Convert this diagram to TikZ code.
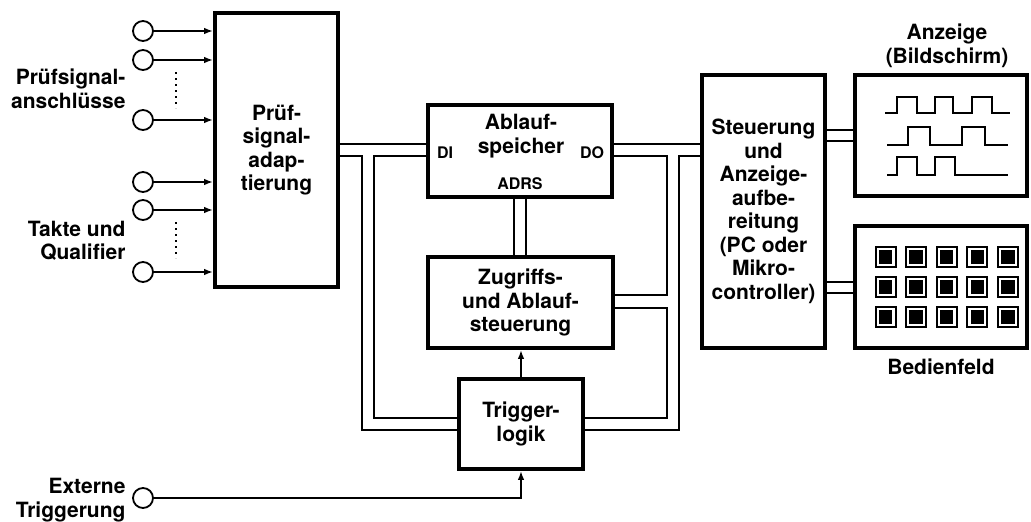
\documentclass[tikz,border=0pt]{standalone}
\usepackage{fontspec}
\setmainfont{TeX Gyre Heros}
\usetikzlibrary{arrows.meta,positioning}

\begin{document}
\begin{tikzpicture}[x=1pt,y=-1pt,>={Latex[length=9pt,width=6.5pt]},
 font=\bfseries\fontsize{21}{23.5}\selectfont,
 blk/.style={draw,line width=3.6pt,inner sep=0pt,align=center},
 bus/.style={line width=2.8pt},
 sig/.style={line width=1.8pt},
 port/.style={draw,circle,line width=1.8pt,minimum size=20pt,inner sep=0pt},
 pin/.style={font=\bfseries\fontsize{16}{18}\selectfont},
 wave/.style={line width=2.6pt}]
\useasboundingbox (0,0) rectangle (1031,522);
% blocks
\node[blk,minimum width=123pt,minimum height=274pt] (pa) at (276.5,150) {Prüf-\\signal-\\adap-\\tierung};
\node[blk,minimum width=184pt,minimum height=92pt] (as) at (520,151) {};
\node[align=center] (astxt) at (521,136) {Ablauf-\\speicher};
\node[pin] (di) at (445,153) {DI};
\node[pin] (do) at (592,153) {DO};
\node[pin] (adrs) at (520,184) {ADRS};
\node[blk,minimum width=185pt,minimum height=91pt] (zs) at (520.5,302.5) {Zugriffs-\\und Ablauf-\\steuerung};
\node[blk,minimum width=124pt,minimum height=90pt] (tl) at (521,424) {Trigger-\\logik};
\node[blk,minimum width=123pt,minimum height=273pt] (st) at (763.5,211.5) {Steuerung\\und\\Anzeige-\\aufbe-\\reitung\\(PC oder\\Mikro-\\controller)};
\node[blk,minimum width=172pt,minimum height=121pt] (an) at (941,135.5) {};
\node[blk,minimum width=172pt,minimum height=122pt] (bf) at (941,287) {};
% inputs
\foreach \y [count=\i] in {31,60,120,182,210,272}{
 \node[port] (in\i) at (143,\y) {};
 \draw[sig,->] (in\i) -- (in\i -| pa.west);
}
\draw[line width=1.6pt,dash pattern=on 2pt off 4pt] (176,72)--(176,108);
\draw[line width=1.6pt,dash pattern=on 2pt off 4pt] (176,222)--(176,258);
\node[align=right,anchor=east] (lpin) at (129,89) {Prüfsignal-\\anschlüsse};
\node[align=right,anchor=east] (lclk) at (129,241) {Takte und\\Qualifier};
% external trigger
\node[port] (ext) at (143,498) {};
\node[align=right,anchor=east] (lext) at (129,500) {Externe\\Triggerung};
\draw[sig,->] (ext) -| (tl.south);
\draw[sig,->] (tl.north) -- (tl.north |- zs.south);
% buses
\draw[bus] (pa.east |- 0,144) -- (as.west |- 0,144);
\draw[bus] (pa.east |- 0,156) -| (362,430) -- (tl.west |- 0,430);
\draw[bus] (as.west |- 0,156) -| (374,418) -- (tl.west |- 0,418);
\draw[bus] (as.east |- 0,144) -- (st.west |- 0,144);
\draw[bus] (as.east |- 0,156) -| (667,295) -- (zs.east |- 0,295);
\draw[bus] (zs.east |- 0,308) -| (667,418) -- (tl.east |- 0,418);
\draw[bus] (st.west |- 0,156) -| (679,430) -- (tl.east |- 0,430);
\draw[bus] (as.south -| 514,0) -- (zs.north -| 514,0);
\draw[bus] (as.south -| 526,0) -- (zs.north -| 526,0);
\draw[bus] (st.east |- 0,130) -- (an.west |- 0,130);
\draw[bus] (st.east |- 0,141) -- (an.west |- 0,141);
\draw[bus] (st.east |- 0,282) -- (bf.west |- 0,282);
\draw[bus] (st.east |- 0,293) -- (bf.west |- 0,293);
% display
\node[align=center] (lan) at (947,46) {Anzeige\\(Bildschirm)};
\draw[wave] (885,113) -| (897,97) -| (917,113) -| (935,97) -| (953,113) -| (972,97) -| (992,113) -- (1010,113);
\draw[wave] (887,145) -| (908,127) -| (930,145) -| (962,127) -| (985,145) -- (1008,145);
\draw[wave] (887,175) -| (897,157) -| (917,175) -| (935,157) -| (955,175) -- (1008,175);
% keypad
\foreach \i in {0,...,4}{
 \foreach \j in {0,1,2}{
  \draw[line width=2pt] (885.5+30.6*\i-10,257+30*\j-10) rectangle ++(20,20);
  \draw[line width=1.4pt,fill=black] (885.5+30.6*\i-6,257+30*\j-6) rectangle ++(12,12);
 }
}
\node[below=6pt of bf] (lbf) {Bedienfeld};
\end{tikzpicture}
\end{document}
